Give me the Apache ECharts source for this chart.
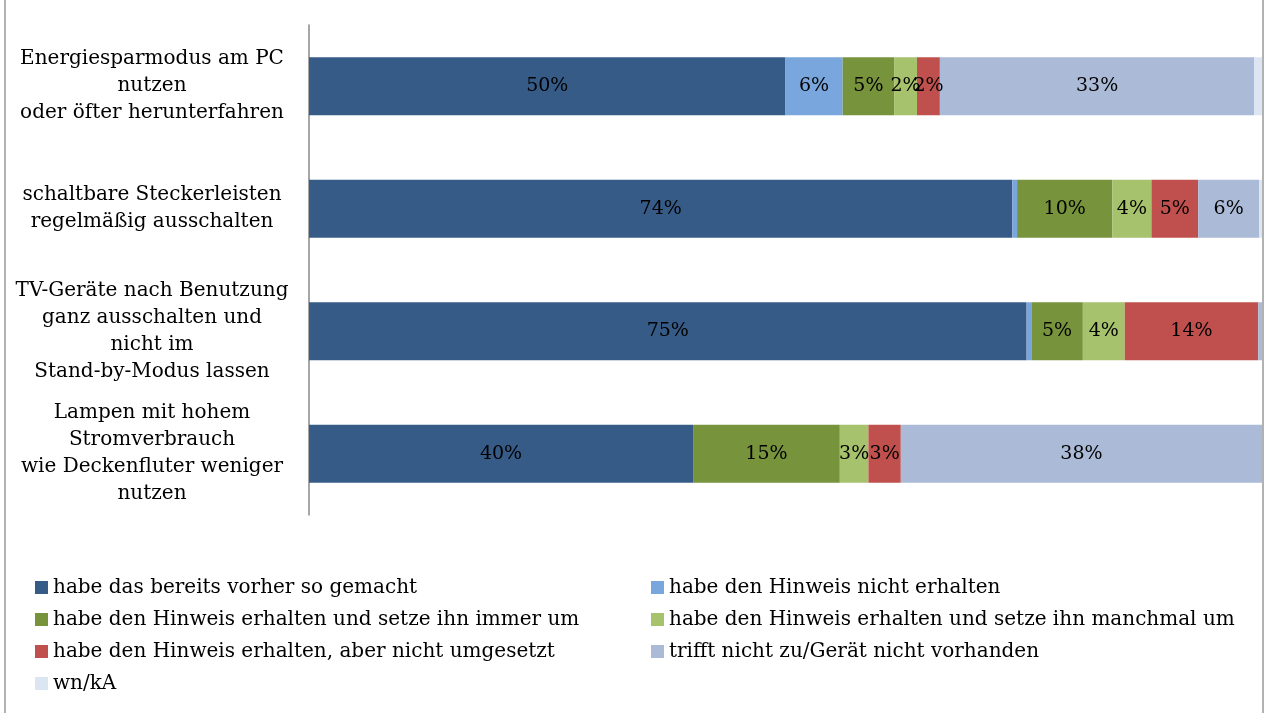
<!DOCTYPE html>
<html>
<head>
<meta charset="utf-8">
<script src="https://cdn.jsdelivr.net/npm/echarts@6/dist/echarts.min.js"></script>
<style>
  html, body { margin: 0; padding: 0; background: #fff; }
  #chart { width: 1266px; height: 713px; }
</style>
</head>
<body>
<div id="chart"></div>
<script>
// categories, top to bottom
var categories = [
  'Energiesparmodus am PC\nnutzen\noder öfter herunterfahren',
  'schaltbare Steckerleisten\nregelmäßig ausschalten',
  'TV-Geräte nach Benutzung\nganz ausschalten und\nnicht im\nStand-by-Modus lassen',
  'Lampen mit hohem\nStromverbrauch\nwie Deckenfluter weniger\nnutzen'
];

var seriesNames = [
  'habe das bereits vorher so gemacht',
  'habe den Hinweis nicht erhalten',
  'habe den Hinweis erhalten und setze ihn immer um',
  'habe den Hinweis erhalten und setze ihn manchmal um',
  'habe den Hinweis erhalten, aber nicht umgesetzt',
  'trifft nicht zu/Gerät nicht vorhanden',
  'wn/kA'
];

// percent values per series, in category order
var vorherGemacht   = [50.0, 73.8, 75.3, 40.3];
var nichtErhalten   = [6.0, 0.5, 0.5, 0.0];
var immerUm         = [5.4, 10.0, 5.4, 15.4];
var manchmalUm      = [2.4, 4.1, 4.4, 3.0];
var nichtUmgesetzt  = [2.4, 4.9, 14.0, 3.4];
var trifftNichtZu   = [33.0, 6.4, 0.4, 37.9];
var wnKA            = [0.8, 0.3, 0.0, 0.0];

var seriesValues = [vorherGemacht, nichtErhalten, immerUm, manchmalUm,
                    nichtUmgesetzt, trifftNichtZu, wnKA];

var colors = ['#375b87', '#79a6dc', '#77933c', '#a6c26c', '#c0504d', '#abbad7', '#dce6f2'];

var FONT = '"DejaVu Serif", "Liberation Serif", serif';

var chart = echarts.init(document.getElementById('chart'));

var series = seriesValues.map(function (vals, i) {
  return {
    name: seriesNames[i],
    type: 'bar',
    stack: 'total',
    barWidth: 58,
    data: vals,
    itemStyle: { color: colors[i] },
    label: {
      show: true,
      position: 'inside',
      color: '#000',
      fontFamily: FONT,
      fontSize: 19,
      formatter: function (p) {
        return p.value >= 1 ? Math.round(p.value) + '%' : '';
      }
    }
  };
});

var legendText = { fontFamily: FONT, fontSize: 20, color: '#000', lineHeight: 23, padding: 0 };

chart.setOption({
  animation: false,
  color: colors,
  grid: { left: 309, right: 4, top: 25, bottom: 198 },
  xAxis: {
    type: 'value',
    min: 0,
    max: 100,
    show: false
  },
  yAxis: {
    type: 'category',
    inverse: true,
    data: categories,
    axisLine: { show: true, lineStyle: { color: '#888', width: 1.5 } },
    axisTick: { show: false },
    axisLabel: {
      align: 'center',
      margin: 157,
      color: '#000',
      fontFamily: FONT,
      fontSize: 20,
      lineHeight: 27
    }
  },
  legend: [
    {
      orient: 'vertical',
      left: 35,
      top: 576,
      padding: 0,
      itemWidth: 13,
      itemHeight: 13,
      itemGap: 9,
      icon: 'rect',
      data: [seriesNames[0], seriesNames[2], seriesNames[4], seriesNames[6]],
      textStyle: legendText
    },
    {
      orient: 'vertical',
      left: 651,
      top: 576,
      padding: 0,
      itemWidth: 13,
      itemHeight: 13,
      itemGap: 9,
      icon: 'rect',
      data: [seriesNames[1], seriesNames[3], seriesNames[5]],
      textStyle: legendText
    }
  ],
  graphic: [
    { type: 'line', shape: { x1: 5, y1: 0, x2: 5, y2: 713 }, style: { stroke: '#999', lineWidth: 1.5 } },
    { type: 'line', shape: { x1: 1263, y1: 0, x2: 1263, y2: 713 }, style: { stroke: '#999', lineWidth: 1.5 } }
  ],
  series: series
});
</script>
</body>
</html>
